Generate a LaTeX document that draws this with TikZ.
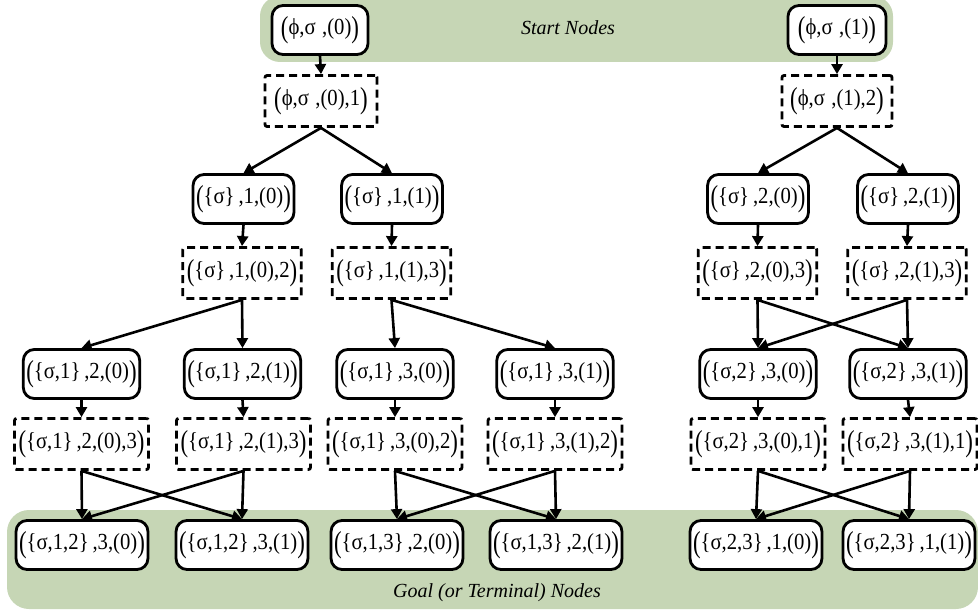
\documentclass[tikz,border=0pt]{standalone}
\usepackage{fontspec}
\setmainfont{Liberation Serif}
\newfontfamily\nodefont{Liberation Serif}[FakeStretch=0.9]
\usepackage{graphicx}
\usetikzlibrary{arrows.meta}
\definecolor{band}{RGB}{198,214,181}
\newcommand{\LP}{\raisebox{-0.12em}{\scalebox{1.1}[1.32]{(}}}
\newcommand{\RP}{\raisebox{-0.12em}{\scalebox{1.1}[1.32]{)}}}
\begin{document}
\begin{tikzpicture}[x=1pt,y=-1pt,
  sol/.style={draw=black,line width=2.8pt,rounded corners=11pt,fill=white,minimum height=49pt,inner xsep=3pt,inner ysep=2pt,font=\nodefont\fontsize{23}{25}\selectfont},
  dsh/.style={draw=black,line width=2.8pt,dash pattern=on 8pt off 5pt,fill=white,minimum height=51pt,inner xsep=4pt,inner ysep=2pt,rounded corners=2pt,font=\nodefont\fontsize{23}{25}\selectfont},
  arr/.style={line width=2.6pt,-{Triangle[length=10pt,width=11pt]}},
  lbl/.style={font=\fontsize{20}{22}\selectfont\itshape,inner sep=0pt}]
\useasboundingbox (0,0) rectangle (978,615);
% bands
\fill[band,rounded corners=20pt] (260,-4) rectangle (893,62);
\fill[band,rounded corners=22pt] (7,510) rectangle (978,609);
\node[lbl] (startlbl) at (568,28) {Start Nodes};
\node[lbl] (goallbl) at (497,593) {Goal (or Terminal) Nodes};
% row 1
\node[sol,minimum width=96pt] (s0) at (320,30) {\LP ϕ,σ\;,(0)\RP};
\node[sol,minimum width=98pt] (s1) at (837,30) {\LP ϕ,σ\;,(1)\RP};
% row 2
\node[dsh,minimum width=112pt] (d0) at (321,101) {\LP ϕ,σ\;,(0),1\RP};
\node[dsh,minimum width=110pt] (d1) at (837,101) {\LP ϕ,σ\;,(1),2\RP};
% row 3
\node[sol] (a) at (243.5,199) {\LP\{σ\}\,,1,(0)\RP};
\node[sol] (b) at (392,199) {\LP\{σ\}\,,1,(1)\RP};
\node[sol] (c) at (758,199) {\LP\{σ\}\,,2,(0)\RP};
\node[sol] (d) at (908,199) {\LP\{σ\}\,,2,(1)\RP};
% row 4
\node[dsh] (da) at (242,273) {\LP\{σ\}\,,1,(0),2\RP};
\node[dsh] (db) at (391.5,273) {\LP\{σ\}\,,1,(1),3\RP};
\node[dsh] (dc) at (757.5,273) {\LP\{σ\}\,,2,(0),3\RP};
\node[dsh] (dd) at (907,273) {\LP\{σ\}\,,2,(1),3\RP};
% row 5
\node[sol] (e1) at (81.5,374) {\LP\{σ,1\}\,,2,(0)\RP};
\node[sol] (e2) at (242.5,374) {\LP\{σ,1\}\,,2,(1)\RP};
\node[sol] (e3) at (395,374) {\LP\{σ,1\}\,,3,(0)\RP};
\node[sol] (e4) at (555,374) {\LP\{σ,1\}\,,3,(1)\RP};
\node[sol] (e5) at (758,374) {\LP\{σ,2\}\,,3,(0)\RP};
\node[sol] (e6) at (908,374) {\LP\{σ,2\}\,,3,(1)\RP};
% row 6
\node[dsh] (f1) at (81.5,444) {\LP\{σ,1\}\,,2,(0),3\RP};
\node[dsh] (f2) at (243.5,444) {\LP\{σ,1\}\,,2,(1),3\RP};
\node[dsh] (f3) at (395,444) {\LP\{σ,1\}\,,3,(0),2\RP};
\node[dsh] (f4) at (555,444) {\LP\{σ,1\}\,,3,(1),2\RP};
\node[dsh] (f5) at (758,444) {\LP\{σ,2\}\,,3,(0),1\RP};
\node[dsh] (f6) at (910,444) {\LP\{σ,2\}\,,3,(1),1\RP};
% row 7
\node[sol] (g1) at (82,545) {\LP\{σ,1,2\}\,,3,(0)\RP};
\node[sol] (g2) at (242,545) {\LP\{σ,1,2\}\,,3,(1)\RP};
\node[sol] (g3) at (397,545) {\LP\{σ,1,3\}\,,2,(0)\RP};
\node[sol] (g4) at (556,545) {\LP\{σ,1,3\}\,,2,(1)\RP};
\node[sol] (g5) at (756,545) {\LP\{σ,2,3\}\,,1,(0)\RP};
\node[sol] (g6) at (909,545) {\LP\{σ,2,3\}\,,1,(1)\RP};
% edges
\draw[arr] (s0.south) -- (d0.north);
\draw[arr] (s1.south) -- (d1.north);
\draw[arr] (d0.south) -- (a.north);
\draw[arr] (d0.south) -- (b.north);
\draw[arr] (d1.south) -- (c.north);
\draw[arr] (d1.south) -- (d.north);
\draw[arr] (a.south) -- (da.north);
\draw[arr] (b.south) -- (db.north);
\draw[arr] (c.south) -- (dc.north);
\draw[arr] (d.south) -- (dd.north);
\draw[arr] (da.south) -- (e1.north);
\draw[arr] (da.south) -- (e2.north);
\draw[arr] (db.south) -- (e3.north);
\draw[arr] (db.south) -- (e4.north);
\draw[arr] (dc.south) -- (e5.north);
\draw[arr] (dc.south) -- (e6.north);
\draw[arr] (dd.south) -- (e6.north);
\draw[arr] (dd.south) -- (e5.north);
\foreach \s/\t in {e1/f1,e2/f2,e3/f3,e4/f4,e5/f5,e6/f6}
  \draw[arr] (\s.south) -- (\t.north);
\foreach \s/\t in {f1/g1,f1/g2,f2/g1,f2/g2,f3/g3,f3/g4,f4/g3,f4/g4,f5/g5,f5/g6,f6/g5,f6/g6}
  \draw[arr] (\s.south) -- (\t.north);
\end{tikzpicture}
\end{document}
